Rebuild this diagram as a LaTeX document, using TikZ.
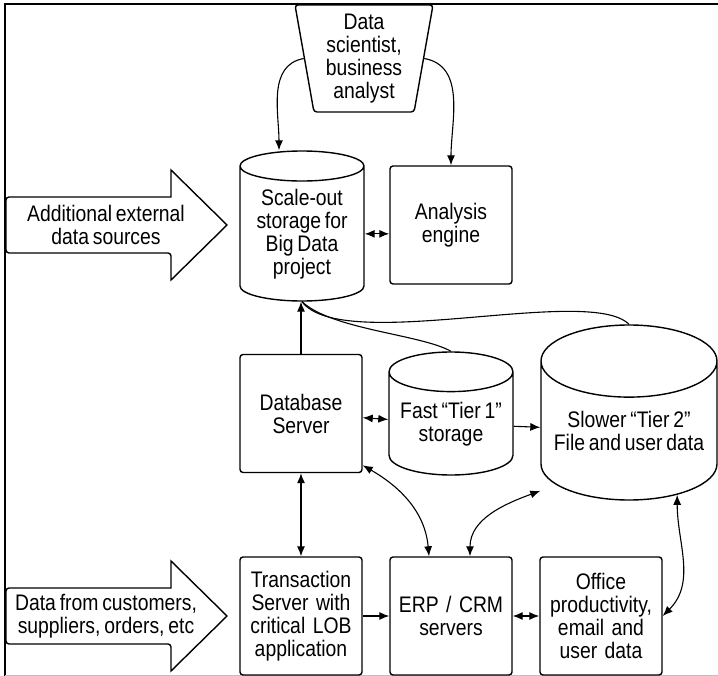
\documentclass[tikz,border=0pt]{standalone}
\usepackage{fontspec}
\setmainfont{Liberation Sans}[FakeStretch=0.86]
\usetikzlibrary{arrows.meta,positioning,shapes.geometric}
\newcommand\labelfont{\fontsize{22.5}{23}\selectfont\spaceskip=0.17em plus 0.05em\relax}

\tikzset{box/.style    = {rectangle, draw, line width=1.4pt, rounded corners=3pt, minimum width=122pt,
		minimum height=118pt, text width=118pt, align=center, inner sep=0pt},
	drum/.style    = {cylinder, draw, line width=1.4pt, shape border rotate=90, align=center, inner sep=0pt},
	person/.style  = {trapezium, draw, line width=1.4pt, shape border rotate=180, trapezium left angle=78,
		trapezium right angle=78, trapezium stretches body, rounded corners=3pt, align=center, inner sep=0pt},
	line/.style    = {draw, line width=1.1pt, -{Latex[length=10pt,width=8pt]}},
	dline/.style   = {line, {Latex[length=10pt,width=8pt]}-{Latex[length=10pt,width=8pt]}},
	bigarrow/.style = {draw, line width=1.4pt}
}

\begin{document}
\begin{tikzpicture}[x=1pt, y=1pt, node distance=150pt, font=\labelfont]
	\useasboundingbox (0,0) rectangle (718,-676);
	% frame
	\draw[line width=1.4pt] (718,-4) -- (5,-4) -- (5,-676);
	\draw[black!25, line width=1pt] (5,-675) -- (718,-675);

	% top part
	\node [person, minimum width=138pt, minimum height=107pt] (analyst) at (364,-58.5) {Data\\scientist,\\business\\analyst};
	\node [drum, minimum width=124pt, minimum height=150pt, aspect=0.33, anchor=shape center] (bigdata) at (302,-226) {Scale-out\\storage for\\Big Data\\project};
	\node [box] (engine) at (451,-225) {Analysis\\engine};
	\draw[bigarrow] [rounded corners=3pt] (171,-197) -- (6,-197) -- (6,-253) -- (171,-253) [sharp corners] -- (171,-280) -- (227,-225) -- (171,-170) -- cycle;
	\node [align=center] (extsrc) at (106,-225) {Additional external\\data sources};

	% middle row
	\node [box] (dbserver) at (301,-413.5) {Database\\Server};
	\node [drum, minimum width=124pt, minimum height=123pt, aspect=0.39, anchor=shape center] (tier1) at (451,-413.5) {Fast “Tier 1”\\storage};
	\node [drum, minimum width=176pt, minimum height=175pt, aspect=0.48, anchor=shape center] (tier2) at (629,-412.5) {Slower “Tier 2”\\File and user data};

	% bottom row
	\node [box] (trans) at (301,-616) {Transaction\\Server with\\critical LOB\\application};
	\node [box, right of=trans] (erp) {ERP / CRM\\servers};
	\node [box, right of=erp] (office) {Office\\productivity,\\email and\\user data};
	\draw[bigarrow] [rounded corners=3pt] (171,-588) -- (6,-588) -- (6,-644) -- (171,-644) [sharp corners] -- (171,-671) -- (227,-616) -- (171,-561) -- cycle;
	\node [align=center] (custdata) at (106,-616) {Data from customers,\\suppliers, orders, etc};

	% connectors
	\draw[line] (analyst.west) to[out=190,in=90] ([xshift=-23pt]bigdata.north);
	\draw[line] (analyst.east) to[out=-10,in=90] (engine.north);
	\draw[dline] (bigdata.east) -- (bigdata.east -| engine.west);
	\draw[line] (dbserver.north) -- (dbserver.north |- bigdata.south);
	\draw[line width=1.1pt] (tier1.north) .. controls +(-30,17) and +(30,-28) .. (bigdata.south);
	\draw[line width=1.1pt] (tier2.north) .. controls +(-40,40) and +(40,-53) .. (bigdata.south);
	\draw[dline] (dbserver) -- (tier1);
	\draw[line] (tier1) -- (tier2);
	\draw[dline] (dbserver) -- (trans);
	\draw[dline] (dbserver.-40) to[out=-30,in=95] ([xshift=-22pt]erp.north);
	\draw[dline] ([yshift=-60pt]tier2.west) to[out=200,in=90] ([xshift=19pt]erp.north);
	\draw[dline] (tier2.-53) to[out=-90,in=45] (office.east);
	\draw[line] (trans) -- (erp);
	\draw[dline] (erp) -- (office);
\end{tikzpicture}
\end{document}
